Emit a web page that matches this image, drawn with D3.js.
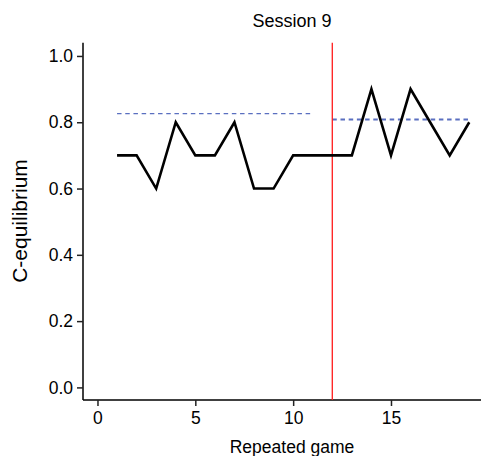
<!DOCTYPE html>
<html>
<head>
<meta charset="utf-8">
<script src="https://cdn.jsdelivr.net/npm/d3@7"></script>
<style>
  body { margin: 0; background: #fff; }
  svg text { font-family: "Liberation Sans", Arial, Helvetica, sans-serif; fill: #000; }
</style>
</head>
<body>
<div id="chart"></div>
<script>
// repeated games 1..19, C-equilibrium share
const games = [1, 2, 3, 4, 5, 6, 7, 8, 9, 10, 11, 12, 13, 14, 15, 16, 17, 18, 19];
const cEquil = [0.7, 0.7, 0.6, 0.8, 0.7, 0.7, 0.8, 0.6, 0.6, 0.7, 0.7, 0.7, 0.7, 0.9, 0.7, 0.9, 0.8, 0.7, 0.8];
// dashed reference levels before / after the break
const refLevels = [
    {from: 1, to: 11, value: 0.826},
    {from: 12, to: 19, value: 0.808}
];
const breakGame = 12;
const xTicks = [0, 5, 10, 15];
const yTicks = [0, 0.2, 0.4, 0.6, 0.8, 1.0];

var width = 481, height = 456;

var svg = d3.select("#chart")
    .append("svg")
    .attr("width", width)
    .attr("height", height);

var x = d3.scaleLinear()
    .domain([-0.74, 19.6])
    .range([83, 481]);

var y = d3.scaleLinear()
    .domain([-0.038, 1.04])
    .range([400, 42.7]);

// axes
var xAxis = svg.append("g")
    .attr("transform", "translate(0," + y.range()[0] + ")")
    .call(d3.axisBottom(x).tickValues(xTicks).tickSize(6).tickPadding(6).tickSizeOuter(0));

var yAxis = svg.append("g")
    .attr("transform", "translate(" + x.range()[0] + ",0)")
    .call(d3.axisLeft(y).tickValues(yTicks).tickSize(6).tickPadding(4).tickSizeOuter(0)
        .tickFormat(d3.format(".1f")));

[xAxis, yAxis].forEach(function(a) {
    a.select(".domain").attr("stroke", "#000").attr("stroke-width", 1.5);
    a.selectAll(".tick line").attr("stroke", "#222").attr("stroke-width", 1.5);
    a.selectAll(".tick text").style("font-size", "17.5px").attr("fill", "#000");
});
xAxis.select(".domain").attr("d", "M" + x.range()[0] + ",0H" + x.range()[1]);
yAxis.select(".domain").attr("d", "M0," + y.range()[0] + "V" + y.range()[1]);

// dashed reference levels (second one drawn a bit heavier, as in the original)
svg.selectAll("line.ref")
    .data(refLevels)
    .enter()
    .append("line")
    .attr("class", "ref")
    .attr("x1", function(d) { return x(d.from); })
    .attr("x2", function(d) { return x(d.to); })
    .attr("y1", function(d) { return y(d.value); })
    .attr("y2", function(d) { return y(d.value); })
    .attr("stroke", "#5a6fc0")
    .attr("stroke-width", function(d, i) { return i ? 2 : 1.3; })
    .attr("stroke-dasharray", "4.5,3.7");

// break line
svg.append("line")
    .attr("x1", x(breakGame))
    .attr("x2", x(breakGame))
    .attr("y1", y.range()[0])
    .attr("y2", y.range()[1])
    .attr("stroke", "#ff1a1a")
    .attr("stroke-width", 1.3);

// series
var line = d3.line()
    .x(function(d, i) { return x(games[i]); })
    .y(function(d) { return y(d); });

svg.append("path")
    .datum(cEquil)
    .attr("d", line)
    .attr("fill", "none")
    .attr("stroke", "#000")
    .attr("stroke-width", 2.6)
    .attr("stroke-linejoin", "miter");

// titles
svg.append("text")
    .attr("x", 292)
    .attr("y", 27)
    .attr("text-anchor", "middle")
    .style("font-size", "18px")
    .text("Session 9");

svg.append("text")
    .attr("x", 292)
    .attr("y", 453)
    .attr("text-anchor", "middle")
    .style("font-size", "17.5px")
    .text("Repeated game");

svg.append("text")
    .attr("transform", "translate(27,221) rotate(-90)")
    .attr("text-anchor", "middle")
    .style("font-size", "21px")
    .text("C-equilibrium");
</script>
</body>
</html>
